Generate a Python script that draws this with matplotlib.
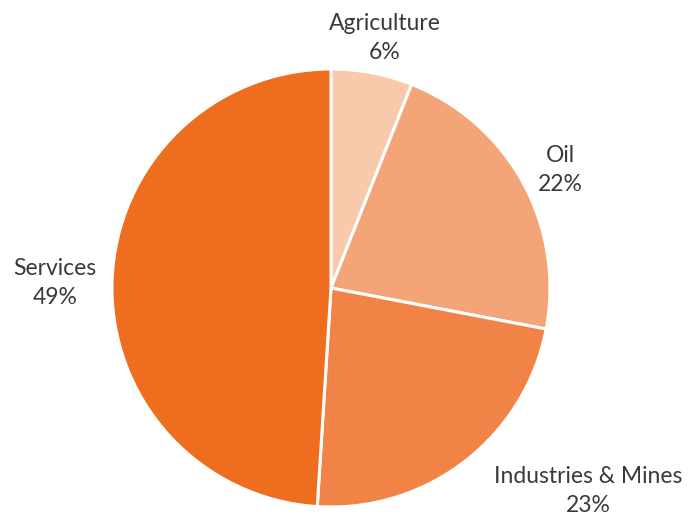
import matplotlib.pyplot as plt

sectors = ['Agriculture', 'Oil', 'Industries & Mines', 'Services']
shares = [6, 22, 23, 49]
colors = ['#F8C9AA', '#F4A577', '#F08345', '#EE6D1E']

# label anchor points in pixel space (x, y from top)
label_pos = [(385, 38), (560, 170), (588, 491), (55, 283)]

W, H = 691, 523
fig = plt.figure(figsize=(W / 100, H / 100), dpi=100)
ax = fig.add_axes([0, 0, 1, 1])

ax.pie(shares, colors=colors, startangle=90, counterclock=False,
       center=(331, H - 288), radius=219,
       wedgeprops=dict(edgecolor='white', linewidth=2.2))

for name, val, (x, y) in zip(sectors, shares, label_pos):
    ax.text(x, H - y, f'{name}\n{val}%', ha='center', va='center',
            fontsize=16.5, color='#3a3a3a', family='Lato', linespacing=1.45)

ax.set_xlim(0, W)
ax.set_ylim(0, H)
ax.set_aspect('equal')
ax.axis('off')

fig.savefig('out.png', dpi=100, facecolor='white')
